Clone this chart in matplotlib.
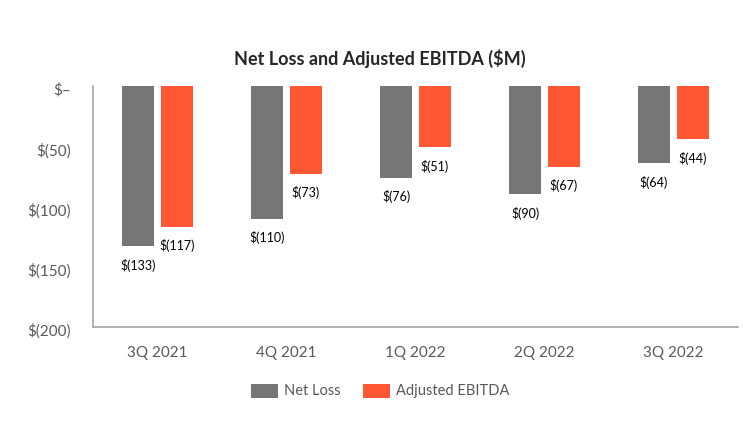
import matplotlib.pyplot as plt
import matplotlib.transforms as mtransforms
import numpy as np

plt.rcParams['font.family'] = ['Lato', 'DejaVu Sans']

quarters = ["3Q 2021", "4Q 2021", "1Q 2022", "2Q 2022", "3Q 2022"]
net_loss = [-133, -110, -76, -90, -64]
adj_ebitda = [-117, -73, -51, -67, -44]
yticks = [0, -50, -100, -150, -200]
ytick_labels = ["\\$–", "\\$(50)", "\\$(100)", "\\$(150)", "\\$(200)"]

gray = "#767676"
orange = "#FF5733"

fig = plt.figure(figsize=(7.43, 4.22), dpi=100)
ax = fig.add_axes([93/743, 1 - 327/422, 645/743, 241/422])

x = np.arange(len(quarters))
w = 0.248
off = 0.151
b1 = ax.bar(x - off, net_loss, w, color=gray, label="Net Loss")
b2 = ax.bar(x + off, adj_ebitda, w, color=orange, label="Adjusted EBITDA")

for bars, vals in [(b1, net_loss), (b2, adj_ebitda)]:
    for b, v in zip(bars, vals):
        ax.annotate("\\$(%d)" % -v, (b.get_x() + b.get_width() / 2, v),
                    xytext=(0, -9), textcoords="offset points",
                    ha="center", va="top", fontsize=9, color="black")

ax.set_xlim(-0.5, 4.5)
ax.set_ylim(-200, 0)
ax.set_xticks(x)
ax.set_xticklabels(quarters, fontsize=11, color="#595959")
ax.set_yticks(yticks)
ax.set_yticklabels(ytick_labels, fontsize=11, color="#595959")
ax.tick_params(length=0)
ax.tick_params(axis="x", pad=14)
ax.tick_params(axis="y", pad=16)

# shift y tick labels down a few pixels
shift = mtransforms.ScaledTranslation(0, -3/100, fig.dpi_scale_trans)
for t in ax.get_yticklabels():
    t.set_transform(t.get_transform() + shift)

for s in ["top", "right"]:
    ax.spines[s].set_visible(False)
for s in ["left", "bottom"]:
    ax.spines[s].set_color("#A6A6A6")
    ax.spines[s].set_linewidth(1.2)

fig.text(380/743, 1 - 58/422, "Net Loss and Adjusted EBITDA (\\$M)",
         ha="center", va="center", fontsize=13, fontweight="bold", color="#262626")

fig.legend(handles=[b1, b2], loc="center", bbox_to_anchor=(380/743, 1 - 391/422),
           ncol=2, frameon=False, fontsize=10.5, handlelength=1.9, handleheight=1.1,
           columnspacing=1.5, handletextpad=0.4, labelcolor="#595959")

fig.savefig("out.png", dpi=100)
